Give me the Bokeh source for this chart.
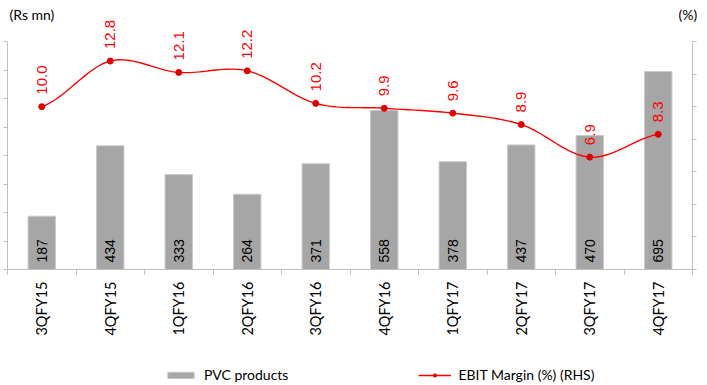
import numpy as np
from bokeh.plotting import figure
from bokeh.models import (ColumnDataSource, Range1d, LinearAxis, FixedTicker,
                          Legend, LegendItem, Label)
from bokeh.core.properties import value
from bokeh.embed import file_html
from bokeh.resources import INLINE

# Quarterly PVC products revenue (Rs mn) and EBIT margin (%)
quarters = ["3QFY15", "4QFY15", "1QFY16", "2QFY16", "3QFY16",
            "4QFY16", "1QFY17", "2QFY17", "3QFY17", "4QFY17"]
pvc_products = [187, 434, 333, 264, 371, 558, 378, 437, 470, 695]
ebit_margin = [10.0, 12.8, 12.1, 12.2, 10.2, 9.9, 9.6, 8.9, 6.9, 8.3]

left_ticks = [0, 100, 200, 300, 400, 500, 600, 700, 800]
right_ticks = [0, 2, 4, 6, 8, 10, 12, 14]

FONT = "Lato"
GRID = "#BFBFBF"

# page geometry (pixels): the frame fills the page and the axes are pinned
W, H = 707, 385
PLOT_L, PLOT_R = 7, 692     # x of the first / last category boundary
PLOT_T, PLOT_B = 41, 269    # y of the top / bottom of the value axes

n = len(quarters)
xc = [i + 0.5 for i in range(n)]

# x: 0..n spans PLOT_L..PLOT_R
xper = n / (PLOT_R - PLOT_L)
x_range = Range1d(-PLOT_L * xper, n + (W - PLOT_R) * xper)
# y: bottom of the value axes at PLOT_B, top at PLOT_T
yper = left_ticks[-1] / (PLOT_B - PLOT_T)
y_range = Range1d(-(H - PLOT_B) * yper, left_ticks[-1] + PLOT_T * yper)
rper = right_ticks[-1] / (PLOT_B - PLOT_T)
r_range = Range1d(-(H - PLOT_B) * rper, right_ticks[-1] + PLOT_T * rper)

src = ColumnDataSource(dict(
    x=xc, q=quarters, pvc=pvc_products, m=ebit_margin,
    pvc_lbl=[str(v) for v in pvc_products],
    m_lbl=[f"{v:.1f}" for v in ebit_margin],
))

p = figure(width=W, height=H, output_backend="svg", toolbar_location=None,
           x_range=x_range, y_range=y_range,
           min_border_left=0, min_border_right=0,
           min_border_top=0, min_border_bottom=0)
p.outline_line_color = None
p.xgrid.visible = False
p.ygrid.visible = False
p.xaxis.visible = False
p.yaxis.visible = False
p.background_fill_color = "white"
p.border_fill_color = "white"

# left value axis: ticks only
yl = LinearAxis(ticker=FixedTicker(ticks=left_ticks, minor_ticks=[]),
                bounds=(left_ticks[0], left_ticks[-1]), fixed_location=0,
                axis_line_color=GRID, major_tick_line_color=GRID,
                major_tick_out=4, major_tick_in=0,
                major_label_text_font_size="0px", major_label_standoff=0)
p.add_layout(yl, "left")

# right margin axis (RHS)
p.extra_y_ranges = {"pct": r_range}
yr = LinearAxis(y_range_name="pct",
                ticker=FixedTicker(ticks=right_ticks, minor_ticks=[]),
                bounds=(right_ticks[0], right_ticks[-1]), fixed_location=n,
                axis_line_color=GRID, major_tick_line_color=GRID,
                major_tick_out=4, major_tick_in=0,
                major_label_text_font_size="0px", major_label_standoff=0)
p.add_layout(yr, "right")

# category axis: labels at centres, tick marks at boundaries
xa = LinearAxis(ticker=FixedTicker(ticks=xc, minor_ticks=list(range(n + 1))),
                bounds=(0, n), fixed_location=0,
                major_label_overrides={x: q for x, q in zip(xc, quarters)},
                major_label_orientation=np.pi / 2,
                major_label_text_font=FONT, major_label_text_font_size="14.5px",
                major_label_text_color="#000000", major_label_standoff=6,
                axis_line_color=GRID, major_tick_line_color=None,
                minor_tick_line_color=GRID, minor_tick_out=5, minor_tick_in=0)
p.add_layout(xa, "below")

bars = p.vbar(x="x", top="pvc", width=0.4, source=src,
              fill_color="#A6A6A6", line_color="#C9C9C9", line_width=1)

p.text(x="x", y=0, text="pvc_lbl", source=src, angle=np.pi / 2,
       text_align="left", text_baseline="middle", y_offset=-7,
       text_font=value("Liberation Sans"), text_font_size="14px",
       text_color="#000000")

# smoothed margin line (Catmull-Rom through the data points)
xs_pts = np.array(xc)
ys_pts = np.array(ebit_margin)
px = np.concatenate([[2 * xs_pts[0] - xs_pts[1]], xs_pts, [2 * xs_pts[-1] - xs_pts[-2]]])
py = np.concatenate([[ys_pts[0]], ys_pts, [ys_pts[-1]]])
cx, cy = [], []
t = np.linspace(0, 1, 20, endpoint=False)
for i in range(1, len(px) - 2):
    p0, p1, p2, p3 = px[i - 1], px[i], px[i + 1], px[i + 2]
    q0, q1, q2, q3 = py[i - 1], py[i], py[i + 1], py[i + 2]
    for tt in t:
        t2, t3 = tt * tt, tt * tt * tt
        cx.append(0.5 * (2 * p1 + (-p0 + p2) * tt + (2 * p0 - 5 * p1 + 4 * p2 - p3) * t2
                         + (-p0 + 3 * p1 - 3 * p2 + p3) * t3))
        cy.append(0.5 * (2 * q1 + (-q0 + q2) * tt + (2 * q0 - 5 * q1 + 4 * q2 - q3) * t2
                         + (-q0 + 3 * q1 - 3 * q2 + q3) * t3))
cx.append(xs_pts[-1])
cy.append(ys_pts[-1])

line = p.line(cx, cy, y_range_name="pct", line_color="#FF0000", line_width=1.4)
dots = p.scatter(x="x", y="m", source=src, y_range_name="pct", size=6,
                 fill_color="#E00000", line_color="#E00000")

p.text(x="x", y="m", text="m_lbl", source=src, y_range_name="pct",
       angle=np.pi / 2, text_align="left", text_baseline="middle",
       y_offset=-12, text_font=value("Liberation Sans"),
       text_font_size="15px", text_color="#FF0000")

# axis titles (screen units from the page's lower-left corner)
p.add_layout(Label(x=9, y=H - 22, x_units="screen", y_units="screen",
                   text="(Rs mn)", text_font=FONT, text_font_size="14px",
                   text_color="#000000"))
p.add_layout(Label(x=678, y=H - 22, x_units="screen", y_units="screen",
                   text="(%)", text_font=FONT, text_font_size="14px",
                   text_color="#000000"))

legend = Legend(items=[LegendItem(label="PVC products", renderers=[bars]),
                       LegendItem(label="EBIT Margin (%) (RHS)", renderers=[line, dots])],
                orientation="horizontal", location=(164, 2),
                glyph_width=33, glyph_height=8, label_standoff=7, spacing=130,
                label_text_font=FONT, label_text_font_size="14px",
                label_text_color="#000000", border_line_color=None,
                background_fill_alpha=0, padding=0, margin=0)
p.add_layout(legend, "center")

open("out.html", "w").write(file_html(p, INLINE))
